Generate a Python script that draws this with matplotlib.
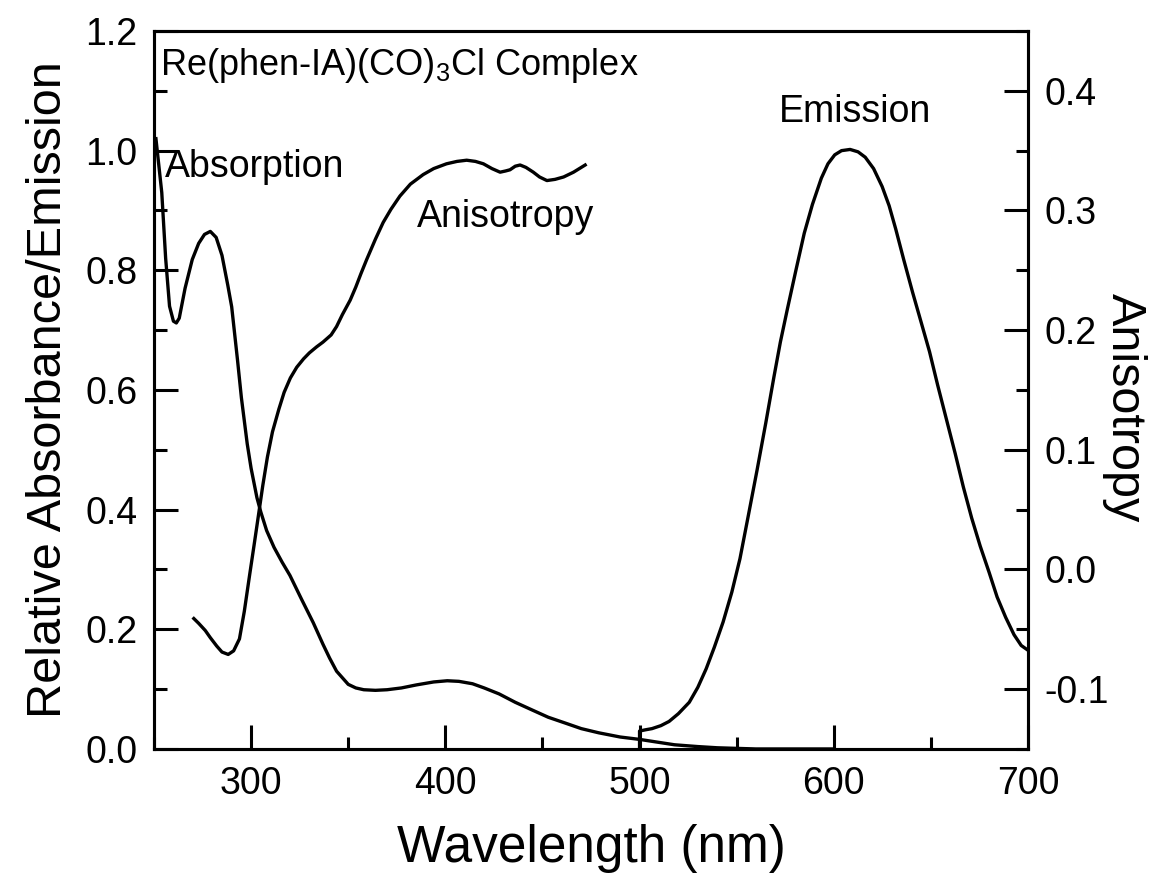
import matplotlib
matplotlib.use('Agg')
import matplotlib.pyplot as plt
from matplotlib.ticker import MultipleLocator

plt.rcParams.update({
    'font.family': ['Liberation Sans', 'DejaVu Sans'],
    'mathtext.fontset': 'custom',
    'mathtext.rm': 'Liberation Sans',
    'mathtext.it': 'Liberation Sans:italic',
    'font.size': 27,
    'axes.linewidth': 2.2,
})

# absorption (left axis, relative)
abs_wl = [251, 254, 256, 258, 260, 261.5, 263, 266, 269.7, 273, 276, 279, 282, 285,
          288, 290, 293, 295, 298, 300, 303, 305, 308, 311.8, 316, 320, 326, 332, 337,
          340.4, 344, 347, 350, 353.9, 358, 364, 370, 377.4, 385, 394, 401, 407, 414,
          420, 427.7, 436, 444.8, 453, 462, 470, 479, 490, 500, 510, 518, 530, 540,
          560, 600]
abs_val = [1.02, 0.93, 0.82, 0.74, 0.715, 0.712, 0.72, 0.77, 0.818, 0.845, 0.86,
           0.865, 0.855, 0.825, 0.775, 0.739, 0.65, 0.587, 0.51, 0.469, 0.42, 0.396,
           0.365, 0.337, 0.312, 0.29, 0.25, 0.211, 0.175, 0.152, 0.13, 0.119, 0.108,
           0.102, 0.099, 0.098, 0.099, 0.102, 0.107, 0.112, 0.114, 0.113, 0.109, 0.102,
           0.092, 0.078, 0.065, 0.053, 0.043, 0.034, 0.027, 0.02, 0.016, 0.011, 0.007,
           0.004, 0.002, 0.0, 0.0]

# emission (left axis, relative)
em_wl = [500, 500, 503, 506.4, 511, 515.2, 520, 525.6, 530, 534.3, 538.5, 543, 547.5,
         551.7, 556, 560.5, 565, 569.2, 572.5, 576.1, 580.5, 584.8, 589, 593.6, 597,
         600.5, 604, 608.4, 612.5, 616.2, 620.5, 624.9, 628.5, 631.9, 636, 640.6, 645,
         649.3, 653.5, 658, 662.5, 666.7, 671, 675.4, 680, 684.1, 688.5, 692.8, 696.5,
         700]
em_val = [0.0, 0.030, 0.032, 0.034, 0.039, 0.046, 0.059, 0.078, 0.103, 0.134, 0.170,
          0.212, 0.262, 0.318, 0.39, 0.466, 0.545, 0.622, 0.68, 0.735, 0.80, 0.862,
          0.91, 0.954, 0.978, 0.993, 1.0, 1.002, 0.998, 0.989, 0.97, 0.940, 0.908,
          0.869, 0.818, 0.763, 0.713, 0.664, 0.608, 0.551, 0.494, 0.438, 0.386, 0.339,
          0.295, 0.254, 0.22, 0.191, 0.173, 0.165]

# anisotropy (right axis)
ani_wl = [270.5, 273, 276.4, 279, 282.3, 285, 288.2, 291, 294, 296.5, 299.2, 301.5,
          303.4, 306, 308.4, 311, 314.3, 317, 320.2, 323.5, 327, 330, 333.7, 337,
          341.2, 344, 347, 351, 353.9, 356.5, 359.5, 364, 368, 372, 376.6, 382, 388.6,
          394, 400.6, 406, 411, 415.5, 419.6, 424, 428.2, 431, 433.3, 436, 438.5,
          441.5, 445.3, 448.5, 452.3, 456.5, 460.9, 466, 472]
ani_val = [-0.041, -0.045, -0.051, -0.057, -0.064, -0.069, -0.071, -0.068, -0.058,
           -0.035, -0.005, 0.02, 0.041, 0.07, 0.094, 0.115, 0.134, 0.148, 0.160, 0.169,
           0.176, 0.181, 0.186, 0.190, 0.196, 0.203, 0.213, 0.225, 0.236, 0.247, 0.259,
           0.276, 0.290, 0.301, 0.312, 0.322, 0.330, 0.335, 0.339, 0.341, 0.342, 0.341,
           0.339, 0.335, 0.332, 0.333, 0.334, 0.337, 0.338, 0.336, 0.332, 0.328, 0.325,
           0.326, 0.328, 0.332, 0.338]

fig = plt.figure(figsize=(11.57, 8.8), dpi=100)
ax = fig.add_axes([0.1331, 0.1489, 0.7554, 0.8159])
ax2 = ax.twinx()

ax.plot(abs_wl, abs_val, color='black', lw=2.4)
ax.plot(em_wl, em_val, color='black', lw=2.4)
ax2.plot(ani_wl, ani_val, color='black', lw=2.4)

ax.set_xlim(250, 700)
ax.set_ylim(0, 1.2)
ax2.set_ylim(-0.15, 0.45)

ax.xaxis.set_major_locator(MultipleLocator(100))
ax.xaxis.set_minor_locator(MultipleLocator(50))
ax.yaxis.set_major_locator(MultipleLocator(0.2))
ax.yaxis.set_minor_locator(MultipleLocator(0.1))
ax2.yaxis.set_major_locator(MultipleLocator(0.1))
ax2.yaxis.set_minor_locator(MultipleLocator(0.05))
ax.xaxis.set_major_formatter(lambda v, p: f'{v:.0f}')
ax.yaxis.set_major_formatter(lambda v, p: f'{v:.1f}')
ax2.yaxis.set_major_formatter(lambda v, p: f'{v:.1f}')

for a in (ax, ax2):
    a.tick_params(which='both', direction='in', width=2.2, labelsize=27, pad=12)
    a.tick_params(which='major', length=17)
    a.tick_params(which='minor', length=9)
ax.tick_params(which='both', top=False, right=False)

ax.set_xlabel('Wavelength (nm)', fontsize=37, labelpad=16)
ax.set_ylabel('Relative Absorbance/Emission', fontsize=35, labelpad=10)
ax2.set_ylabel('Anisotropy', fontsize=35, rotation=270, labelpad=27)
ax2.yaxis.label.set_y(0.475)

ax.text(0.007, 0.939, 'Re(phen-IA)(CO)$_3$Cl Complex', transform=ax.transAxes,
        ha='left', va='baseline', fontsize=26)
ax.text(0.013, 0.797, 'Absorption', transform=ax.transAxes,
        ha='left', va='baseline', fontsize=27)
ax.text(0.301, 0.727, 'Anisotropy', transform=ax.transAxes,
        ha='left', va='baseline', fontsize=27)
ax.text(0.715, 0.873, 'Emission', transform=ax.transAxes,
        ha='left', va='baseline', fontsize=27)

fig.savefig('out.png', dpi=100)
